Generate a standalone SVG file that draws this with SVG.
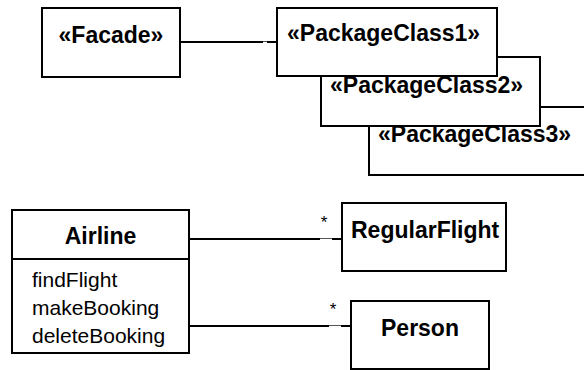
<svg xmlns="http://www.w3.org/2000/svg" width="584" height="370" viewBox="0 0 584 370">
<style>
.box{fill:#fff;stroke:#000;stroke-width:2}
.ln{fill:none;stroke:#000;stroke-width:2}
.thin{fill:none;stroke:#555;stroke-width:1}
.t{font-family:"Liberation Sans",Arial,sans-serif;font-size:23px;font-weight:bold;fill:#000}
.op{font-family:"Liberation Sans",Arial,sans-serif;font-size:21px;fill:#000}
.m{font-family:"Liberation Sans",Arial,sans-serif;font-size:17px;fill:#000}
</style>
<rect width="584" height="370" fill="#fff"/>
<g id="connectors">
<path class="ln" d="M180 42H263M267 42H277"/>
<path class="thin" d="M263 41.5H267"/>
<path class="ln" d="M189 239H320M332 239H342"/>
<path class="thin" d="M320 238.5H332"/>
<path class="ln" d="M189 326H329M341 326H351"/>
<path class="thin" d="M329 325.5H341"/>
<text class="m" x="324" y="228" text-anchor="middle">*</text>
<text class="m" x="333" y="315" text-anchor="middle">*</text>
</g>
<g id="facade">
<rect class="box" x="42" y="8" width="138" height="69"/>
<text class="t" x="111" y="43" text-anchor="middle">«Facade»</text>
</g>
<g id="packageclass3">
<rect class="box" x="369" y="107" width="230" height="68"/>
<text class="t" x="378" y="142">«PackageClass3»</text>
</g>
<g id="packageclass2">
<rect class="box" x="321" y="57" width="219" height="69"/>
<text class="t" x="330" y="93">«PackageClass2»</text>
</g>
<g id="packageclass1">
<rect class="box" x="277" y="8" width="220" height="68"/>
<text class="t" x="287" y="41">«PackageClass1»</text>
</g>
<g id="airline">
<rect class="box" x="12" y="210" width="177" height="143"/>
<path class="ln" d="M12 259H189"/>
<text class="t" x="100.5" y="244" text-anchor="middle">Airline</text>
<text class="op" x="32" y="287">findFlight</text>
<text class="op" x="32" y="315">makeBooking</text>
<text class="op" x="32" y="343">deleteBooking</text>
</g>
<g id="regularflight">
<rect class="box" x="342" y="203" width="164" height="68"/>
<text class="t" x="351" y="238">RegularFlight</text>
</g>
<g id="person">
<rect class="box" x="351" y="301" width="138" height="68"/>
<text class="t" x="420" y="336" text-anchor="middle">Person</text>
</g>
</svg>
